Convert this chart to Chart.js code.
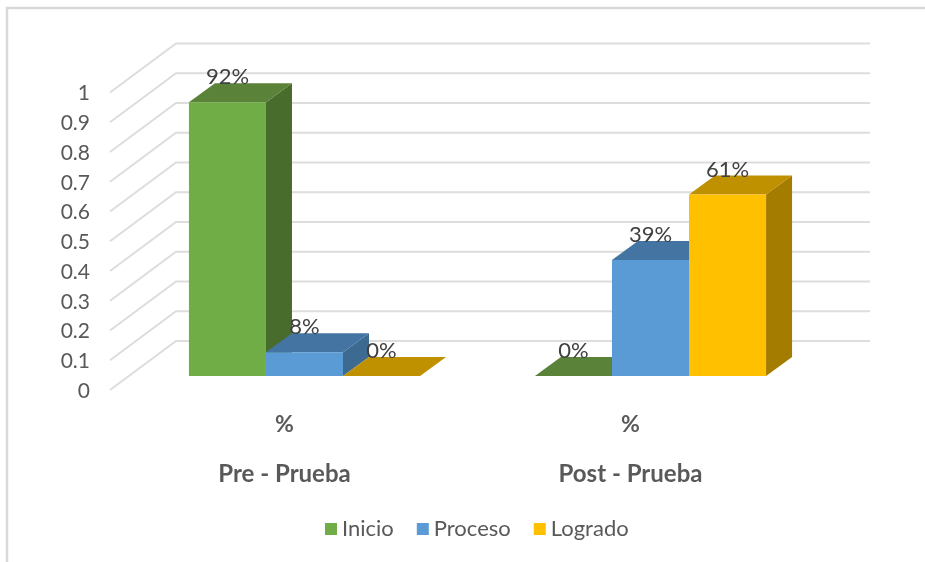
<!DOCTYPE html>
<html><head><meta charset="utf-8">
<style>html,body{margin:0;padding:0;background:#fff}canvas{display:block}</style>
<script src="https://cdn.jsdelivr.net/npm/chart.js@4/dist/chart.umd.js"></script>
</head><body><canvas id="c" width="925" height="562"></canvas>
<script>
const categories = ['Pre - Prueba', 'Post - Prueba'];
const unitLabels = ['%', '%'];
const inicio = [0.92, 0];
const proceso = [0.08, 0.39];
const logrado = [0, 0.61];
const yTickLabels = ['0','0.1','0.2','0.3','0.4','0.5','0.6','0.7','0.8','0.9','1'];
const valueLabels = [['92%','0%'],['8%','39%'],['0%','61%']];
const FONT = 'Lato';
const TEXT = '#595959';
const depth = {x: 26, y: 19};
const wall = {x: 44.5, y: 35, fx: 21.5, fy: 14, right: 46.5};
const shades = [
  {top:'#5A8238', side:'#486C2B'},
  {top:'#4475A2', side:'#3C6A91'},
  {top:'#BF9000', side:'#A47C00'}
];
const scene = {
  id:'scene',
  beforeDraw(ch){
    const c = ch.ctx;
    c.save();
    c.fillStyle='#fff'; c.fillRect(0,0,925,562);
    c.strokeStyle='#D9D9D9'; c.lineWidth=2.5;
    c.beginPath(); c.moveTo(7,562); c.lineTo(7,8); c.lineTo(925,8); c.stroke();
    c.restore();
  },
  beforeDatasetsDraw(ch){
    const c = ch.ctx, y = ch.scales.y, a = ch.chartArea;
    c.save();
    c.strokeStyle='#DDDDDD'; c.lineWidth=2;
    y.ticks.forEach(t=>{
      const p = y.getPixelForValue(t.value);
      c.beginPath();
      c.moveTo(a.left-wall.fx, p+wall.fy);
      c.lineTo(a.left+wall.x, p-wall.y);
      c.lineTo(a.right+wall.right, p-wall.y);
      c.stroke();
    });
    ch.data.datasets.forEach((ds,i)=>{
      ch.getDatasetMeta(i).data.forEach(b=>{
        const l=b.x-b.width/2, r=b.x+b.width/2, t=b.y, bt=b.base;
        c.fillStyle=shades[i].side;
        if(bt-t>0.5){
          c.beginPath(); c.moveTo(r,t); c.lineTo(r+depth.x,t-depth.y);
          c.lineTo(r+depth.x,bt-depth.y); c.lineTo(r,bt); c.closePath(); c.fill();
        }
        c.fillStyle=shades[i].top;
        c.beginPath(); c.moveTo(l,t); c.lineTo(l+depth.x,t-depth.y);
        c.lineTo(r+depth.x,t-depth.y); c.lineTo(r,t); c.closePath(); c.fill();
      });
    });
    c.restore();
  },
  afterDatasetsDraw(ch){
    const c = ch.ctx;
    c.save();
    c.fillStyle='#404040'; c.font='22px '+FONT; c.textAlign='center'; c.textBaseline='middle';
    ch.data.datasets.forEach((ds,i)=>{
      ch.getDatasetMeta(i).data.forEach((b,j)=>{
        c.fillText(valueLabels[i][j], b.x, b.y-25);
      });
    });
    // legend row, taken from the datasets
    c.font='22px '+FONT; c.textAlign='left';
    let x = 325;
    ch.data.datasets.forEach(ds=>{
      c.fillStyle=ds.backgroundColor; c.fillRect(x,523,12,12);
      c.fillStyle=TEXT; c.fillText(ds.label,x+17,529);
      x += 17 + c.measureText(ds.label).width + 23;
    });
    c.restore();
  }
};
new Chart(document.getElementById('c'),{
  type:'bar',
  data:{labels:unitLabels,datasets:[
    {label:'Inicio',data:inicio,backgroundColor:'#70AD47'},
    {label:'Proceso',data:proceso,backgroundColor:'#5B9BD5'},
    {label:'Logrado',data:logrado,backgroundColor:'#FFC000'}
  ]},
  plugins:[scene],
  options:{
    responsive:false,animation:false,
    layout:{padding:{left:30,right:101.5,top:78.5,bottom:76}},
    datasets:{bar:{categoryPercentage:0.668,barPercentage:1,borderWidth:0}},
    plugins:{tooltip:{enabled:false},legend:{display:false}},
    scales:{
      y:{min:0,max:1,
        afterFit(s){s.width=101.5;},
        afterBuildTicks(s){s.ticks=yTickLabels.map((_,i)=>({value:i/10}));},
        grid:{display:false},border:{display:false},
        ticks:{padding:33.5,labelOffset:15,color:TEXT,font:{family:FONT,size:21},
          callback(v,i){return yTickLabels[i];}}
      },
      x:{
        afterFit(s){s.height=60;},
        grid:{display:false},border:{display:false},
        ticks:{padding:27,labelOffset:-20,color:TEXT,maxRotation:0,font:{family:FONT,size:23,weight:'bold'}}
      },
      x2:{type:'category',labels:categories,position:'bottom',
        afterFit(s){s.height=50;},
        grid:{display:false},border:{display:false},
        ticks:{padding:16,labelOffset:-20,color:TEXT,maxRotation:0,font:{family:FONT,size:24,weight:'bold'}}
      }
    }
  }
});
</script></body></html>
